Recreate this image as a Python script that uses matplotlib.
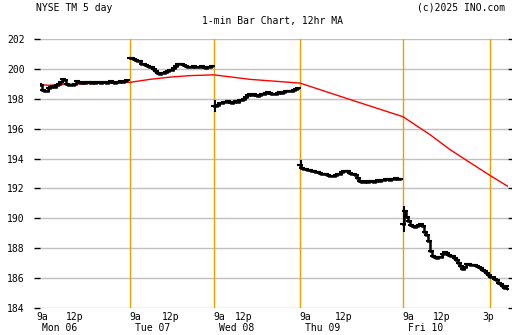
"""NYSE TM 5-day 1-min bar chart with 12hr moving average (INO style)."""

import numpy as np
import matplotlib
matplotlib.use("Agg")
import matplotlib.pyplot as plt
import matplotlib.transforms as mtransforms

# bars per trading session (chart units) and labels
day_names = ["Mon 06", "Tue 07", "Wed 08", "Thu 09", "Fri 10"]
bars_per_day = [93, 84, 86, 103, 107]
sample_step = 2

# sampled closes per session
mon_close = [199.2, 199.0, 198.9, 198.6, 198.5, 198.55, 198.75, 198.8, 198.85, 198.8,
             198.9, 199.0, 199.1, 199.35, 199.25, 199.0, 198.95, 198.9, 198.95, 199.0,
             199.2, 199.15, 199.05, 199.1, 199.05, 199.1, 199.15, 199.05, 199.1, 199.05,
             199.1, 199.15, 199.05, 199.1, 199.15, 199.05, 199.1, 199.2, 199.1, 199.05,
             199.1, 199.15, 199.2, 199.1, 199.2, 199.25]
tue_close = [200.75, 200.7, 200.65, 200.6, 200.55, 200.5, 200.35, 200.3, 200.25, 200.2,
             200.15, 200.1, 200.0, 199.85, 199.7, 199.65, 199.7, 199.75, 199.8, 199.85,
             199.9, 199.95, 200.05, 200.2, 200.3, 200.35, 200.3, 200.25, 200.2, 200.15,
             200.1, 200.15, 200.2, 200.15, 200.1, 200.15, 200.2, 200.1, 200.05, 200.1,
             200.15, 200.2]
wed_close = [197.5, 197.55, 197.6, 197.7, 197.75, 197.8, 197.8, 197.85, 197.8, 197.75,
             197.8, 197.85, 197.8, 197.9, 197.95, 198.0, 198.1, 198.25, 198.3, 198.25,
             198.3, 198.25, 198.2, 198.25, 198.3, 198.35, 198.4, 198.45, 198.4, 198.35,
             198.3, 198.35, 198.4, 198.45, 198.4, 198.45, 198.5, 198.5, 198.55, 198.5,
             198.6, 198.65, 198.7]
thu_close = [193.6, 193.4, 193.3, 193.3, 193.25, 193.25, 193.2, 193.15, 193.1, 193.1,
             193.05, 193.0, 192.95, 193.0, 192.9, 192.85, 192.8, 192.85, 192.9, 192.95,
             193.0, 193.1, 193.15, 193.2, 193.15, 193.05, 193.0, 193.0, 192.9, 192.7,
             192.5, 192.45, 192.45, 192.5, 192.45, 192.5, 192.5, 192.45, 192.5, 192.55,
             192.5, 192.55, 192.55, 192.6, 192.6, 192.55, 192.6, 192.65, 192.7, 192.65,
             192.6]
fri_close = [189.6, 190.5, 190.1, 189.8, 189.55, 189.5, 189.45, 189.5, 189.55, 189.65,
             189.5, 189.1, 188.9, 188.5, 187.8, 187.45, 187.4, 187.35, 187.4, 187.4,
             187.6, 187.75, 187.7, 187.55, 187.5, 187.45, 187.35, 187.2, 187.0, 186.8,
             186.6, 186.75, 186.95, 186.95, 186.9, 186.9, 186.85, 186.8, 186.75, 186.65,
             186.55, 186.45, 186.35, 186.2, 186.1, 186.05, 185.95, 185.85, 185.7, 185.6,
             185.5, 185.35, 185.45, 185.25]

# opening-bar ranges (low, high) per session
open_low = [198.9, 200.6, 197.1, 193.4, 189.1]
open_high = [199.3, 200.8, 197.9, 193.9, 190.8]

# 12hr moving average (bar index, value)
ma_x = [0, 11, 23, 43, 63, 93, 113, 133, 153, 177, 213, 263, 313, 366, 393, 413, 433, 453, 473]
ma_val = [199.0, 198.9, 198.95, 199.0, 199.05, 199.1, 199.3, 199.45, 199.55, 199.6,
          199.3, 199.05, 197.95, 196.8, 195.6, 194.6, 193.73, 192.87, 192.05]

noon_x = [29, 125, 198, 298, 396]
three_pm_x = 453
y_ticks = list(range(184, 203, 2))

ORANGE = "#E8A200"
GRID = "#C0C0C0"
MONO = "DejaVu Sans Mono"

fig = plt.figure(figsize=(5.12, 3.35), dpi=100)
ax = fig.add_axes([40 / 512, 1 - 308 / 335, 468 / 512, 269 / 335])
ax.set_xlim(3, 471)
ax.set_ylim(184, 202)

for s in ax.spines.values():
    s.set_visible(False)

day_starts = np.concatenate([[0], np.cumsum(bars_per_day)[:-1]])

for y in y_ticks:
    ax.axhline(y, color=GRID, lw=1, zorder=1)
for x in list(day_starts[1:]) + [three_pm_x]:
    ax.axvline(x, color=ORANGE, lw=1, zorder=2)

for start, closes in zip(day_starts, [mon_close, tue_close, wed_close, thu_close, fri_close]):
    xs = start + sample_step * np.arange(len(closes))
    ax.plot(xs, closes, color="black", lw=1.8, drawstyle="steps-mid",
            marker="_", markersize=4, markeredgewidth=1.5,
            solid_joinstyle="miter", zorder=4)

ax.vlines(day_starts + 0.5, open_low, open_high, color="black", lw=1.5, zorder=4)

ax.plot(ma_x, ma_val, color="red", lw=1, zorder=3)

ax.set_yticks(y_ticks)
ax.set_yticklabels([str(v) for v in y_ticks], fontsize=7, family=MONO)
ax.tick_params(axis="y", which="both", left=True, right=True, direction="out",
               length=4, width=1, pad=7)
ax.set_xticks([])

trans = mtransforms.blended_transform_factory(ax.transData, ax.transAxes)
row1 = -0.035
row2 = -0.075
for start in day_starts:
    ax.text(start - 1, row1, "9a", ha="left", va="center", fontsize=7,
            family=MONO, transform=trans, clip_on=False)
for x in noon_x:
    ax.text(x, row1, "12p", ha="left", va="center", fontsize=7,
            family=MONO, transform=trans, clip_on=False)
ax.text(three_pm_x - 1.5, row1, "3p", ha="center", va="center", fontsize=7,
        family=MONO, transform=trans, clip_on=False)
for start, name in zip(day_starts, day_names):
    ax.text(start + 5, row2, name, ha="left", va="center", fontsize=7,
            family=MONO, transform=trans, clip_on=False)

fig.text(36 / 512, 1 - 8 / 335, "NYSE TM 5 day", ha="left", va="center",
         fontsize=7, family=MONO)
fig.text(505 / 512, 1 - 8 / 335, "(c)2025 INO.com", ha="right", va="center",
         fontsize=7, family=MONO)
fig.text(272 / 512, 1 - 21 / 335, "1-min Bar Chart, 12hr MA", ha="center",
         va="center", fontsize=7, family=MONO)

fig.savefig("out.png", dpi=100)
